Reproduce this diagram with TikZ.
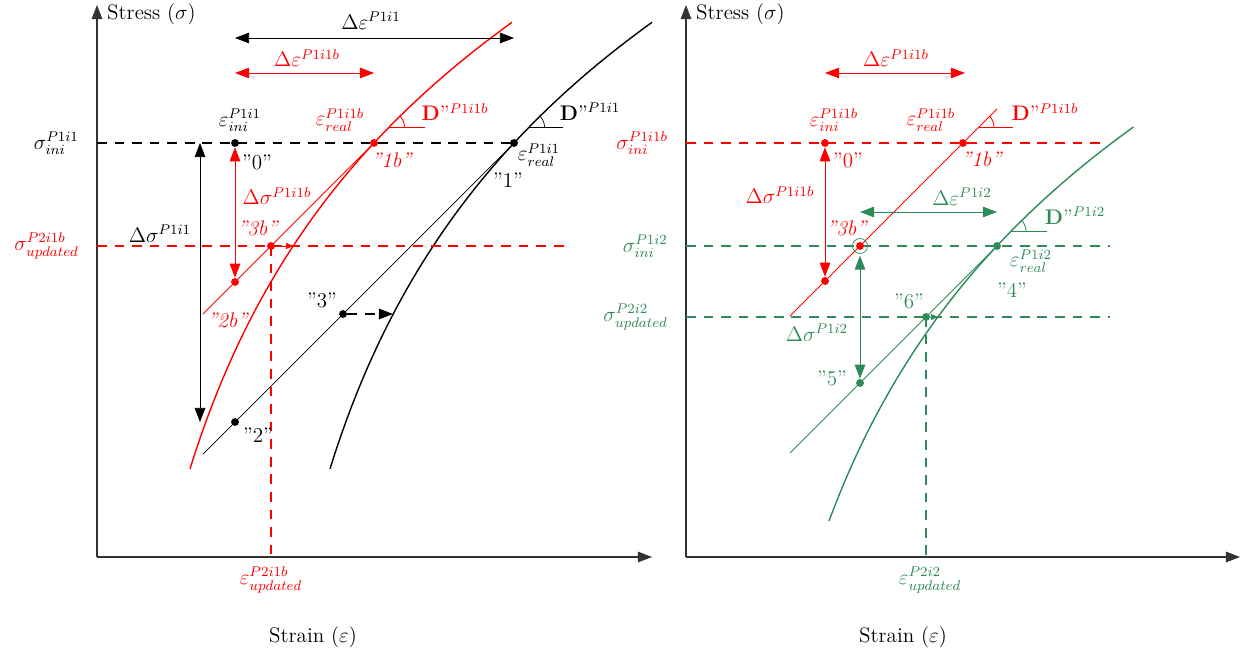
\documentclass[tikz,border=0pt]{standalone}
\usepackage{amsmath,amssymb}
\usepackage{tikz}
\usetikzlibrary{arrows.meta}
\definecolor{seagreen}{RGB}{46,139,87}

\begin{document}
\begin{tikzpicture}[every node/.style={font=\large}, >={Triangle[length=8pt,width=6pt]},
	dot/.style={circle, fill, inner sep=0pt, minimum size=4.5pt},
	axisline/.style={->, draw=black!80, line width=0.6pt},
	guide/.style={line width=0.65pt, dash pattern=on 5.5pt off 4.5pt},
	elastic/.style={line width=0.5pt},
	small/.style={-{Triangle[length=4pt,width=3.5pt]}}]
	\useasboundingbox (-1.94,-1.96) rectangle (22.98,11.14);
	% ---------------- left: iteration P1i1 ----------------
	\coordinate (oA) at (0,0);
	\coordinate (xA) at (11.1,0);
	\coordinate (yA) at (0,11.04);
	\draw[axisline] (oA) -- (xA);
	\draw[axisline] (oA) -- (yA);
	\node[anchor=west] (stressA) at (0.08,10.86) {Stress ($\sigma$)};
	\node (strainA) at (4.32,-1.6) {Strain ($\varepsilon$)};
	% points
	\coordinate (a0) at (2.76,8.28);
	\coordinate (a1b) at (5.54,8.28);
	\coordinate (a1) at (8.34,8.28);
	\coordinate (a2b) at (2.76,5.50);
	\coordinate (a3b) at (3.48,6.22);
	\coordinate (a2) at (2.76,2.70);
	\coordinate (a3) at (4.92,4.86);
	\coordinate (aRedStart) at (2.12,4.86);
	\coordinate (aBlkStart) at (2.12,2.06);
	\coordinate (aIniAxis) at (0,8.28);
	\coordinate (aUpdAxis) at (0,6.22);
	\coordinate (aUpdEnd) at (9.46,6.22);
	\coordinate (aEpsAxis) at (3.48,0);
	% curves
	\draw[red, thick, domain=1.86:8.3, samples=60] plot (\x, {5.97*ln(\x)-1.94});
	\draw[thick, domain=4.66:11.1, samples=60] plot (\x, {5.97*ln(\x-2.8)-1.94});
	% elastic lines
	\draw[elastic, red] (aRedStart) -- (a1b);
	\draw (aBlkStart) -- (a1);
	% dashed levels
	\draw[guide] (aIniAxis) -- (a1);
	\draw[guide, red] (aUpdAxis) -- (aUpdEnd);
	\draw[guide, red] (a3b) -- (aEpsAxis);
	% tangent angles
	\coordinate (aDb) at (5.85,8.6);
	\coordinate (aDbEnd) at (6.56,8.6);
	\coordinate (aD) at (8.65,8.6);
	\coordinate (aDEnd) at (9.32,8.6);
	\draw[elastic, red] (aDb) -- (aDbEnd);
	\draw[elastic, red] (aDb) ++(0.3,0) arc[start angle=0, end angle=45, radius=0.3];
	\draw (aD) -- (aDEnd);
	\draw (aD) ++(0.3,0) arc[start angle=0, end angle=45, radius=0.3];
	% dots
	\node[dot] (d0) at (a0) {};
	\node[dot, red] (d1b) at (a1b) {};
	\node[dot] (d1) at (a1) {};
	\node[dot, red] (d2b) at (a2b) {};
	\node[dot, red] (d3b) at (a3b) {};
	\node[dot] (d2) at (a2) {};
	\node[dot] (d3) at (a3) {};
	% increments
	\coordinate (eA) at (2.76,10.38);
	\coordinate (eB) at (8.34,10.38);
	\coordinate (ebA) at (2.76,9.68);
	\coordinate (ebB) at (5.54,9.68);
	\coordinate (sTop) at (2.06,8.28);
	\coordinate (sBot) at (2.06,2.70);
	\coordinate (c3b) at (3.92,6.22);
	\coordinate (c3) at (5.92,4.86);
	\draw[<->] (eA) -- (eB);
	\draw[<->, elastic, red] (ebA) -- (ebB);
	\draw[<->] (sTop) -- (sBot);
	\draw[<->, elastic, red] (d0) -- (d2b);
	\draw[small, red] (d3b) -- (c3b);
	\draw[->, guide] (d3) -- (c3);
	% labels
	\node (dEpsA) at (5.48,10.72) {$\Delta\varepsilon^{P1i1}$};
	\node[red] (dEpsbA) at (4.2,9.98) {$\Delta\varepsilon^{P1i1b}$};
	\node (epsIniA) at (2.86,8.74) {$\varepsilon_{ini}^{P1i1}$};
	\node[red] (epsRealbA) at (4.86,8.74) {$\varepsilon_{real}^{P1i1b}$};
	\node[red] (DbA) at (7.16,8.9) {\textbf{D}”$^{P1i1b}$};
	\node (DA) at (9.86,8.9) {\textbf{D}”$^{P1i1}$};
	\node (epsRealA) at (8.84,8.04) {$\varepsilon_{real}^{P1i1}$};
	\node (lab1) at (8.22,7.54) {”1”};
	\node[red] (lab1b) at (5.9,7.94) {\textit{”1b”}};
	\node (lab0) at (3.2,7.9) {”0”};
	\node[left] (sigIniA) at (-0.24,8.28) {$\sigma_{ini}^{P1i1}$};
	\node[red] (dSigbA) at (3.6,7.22) {$\Delta\sigma^{P1i1b}$};
	\node[red] (lab3b) at (3.22,6.58) {\textit{”3b”}};
	\node (dSigA) at (1.26,6.46) {$\Delta\sigma^{P1i1}$};
	\node[left, red] (sigUpdA) at (-0.24,6.22) {$\sigma_{updated}^{P2i1b}$};
	\node[red] (lab2b) at (2.62,4.74) {\textit{”2b”}};
	\node (lab3) at (4.5,5.14) {”3”};
	\node (lab2) at (3.22,2.44) {”2”};
	\node[red] (epsUpdA) at (3.48,-0.46) {$\varepsilon_{updated}^{P2i1b}$};
	% ---------------- right: iteration P1i2 ----------------
	\begin{scope}[xshift=11.78cm]
	\coordinate (oB) at (0,0);
	\coordinate (xB) at (11.08,0);
	\coordinate (yB) at (0,11.04);
	\draw[axisline] (oB) -- (xB);
	\draw[axisline] (oB) -- (yB);
	\node[anchor=west] (stressB) at (0.08,10.86) {Stress ($\sigma$)};
	\node (strainB) at (4.34,-1.6) {Strain ($\varepsilon$)};
	% points
	\coordinate (b0) at (2.78,8.28);
	\coordinate (b1b) at (5.54,8.28);
	\coordinate (b2b) at (2.78,5.52);
	\coordinate (b3b) at (3.48,6.22);
	\coordinate (b4) at (6.22,6.22);
	\coordinate (b5) at (3.48,3.48);
	\coordinate (b6) at (4.8,4.8);
	\coordinate (bRedStart) at (2.08,4.82);
	\coordinate (bRedEnd) at (6.22,8.96);
	\coordinate (bGrnStart) at (2.08,2.08);
	\coordinate (bIniAxis) at (0,8.28);
	\coordinate (bIniEnd) at (8.28,8.28);
	\coordinate (bIni2Axis) at (0,6.22);
	\coordinate (bIni2End) at (8.48,6.22);
	\coordinate (bUpdAxis) at (0,4.8);
	\coordinate (bUpdEnd) at (8.48,4.8);
	\coordinate (bEpsAxis) at (4.8,0);
	% curve
	\draw[seagreen, thick, domain=2.86:8.95, samples=60] plot (\x, {5.97*ln(\x-0.64)-4.04});
	% elastic lines
	\draw[elastic, red] (bRedStart) -- (bRedEnd);
	\draw[elastic, seagreen] (bGrnStart) -- (b4);
	% dashed levels
	\draw[guide, red] (bIniAxis) -- (bIniEnd);
	\draw[guide, seagreen] (bIni2Axis) -- (bIni2End);
	\draw[guide, seagreen] (bUpdAxis) -- (bUpdEnd);
	\draw[guide, seagreen] (b6) -- (bEpsAxis);
	% tangent angles
	\coordinate (bDb) at (5.86,8.6);
	\coordinate (bDbEnd) at (6.54,8.6);
	\coordinate (bD) at (6.5,6.52);
	\coordinate (bDEnd) at (7.22,6.52);
	\draw[elastic, red] (bDb) -- (bDbEnd);
	\draw[elastic, red] (bDb) ++(0.3,0) arc[start angle=0, end angle=45, radius=0.3];
	\draw[elastic, seagreen] (bD) -- (bDEnd);
	\draw[elastic, seagreen] (bD) ++(0.3,0) arc[start angle=0, end angle=45, radius=0.3];
	% dots
	\node[dot, red] (e0) at (b0) {};
	\node[dot, red] (e1b) at (b1b) {};
	\node[dot, red] (e2b) at (b2b) {};
	\node[dot, red] (e3b) at (b3b) {};
	\node[dot, seagreen] (e4) at (b4) {};
	\node[dot, seagreen] (e5) at (b5) {};
	\node[dot, seagreen] (e6) at (b6) {};
	\draw[seagreen] (e3b.center) circle (0.15);
	% increments
	\coordinate (fbA) at (2.78,9.68);
	\coordinate (fbB) at (5.58,9.68);
	\coordinate (fA) at (3.48,6.9);
	\coordinate (fB) at (6.22,6.9);
	\coordinate (c6) at (5.04,4.8);
	\draw[<->, elastic, red] (fbA) -- (fbB);
	\draw[<->, elastic, seagreen] (fA) -- (fB);
	\draw[<->, elastic, red] (e0) -- (e2b);
	\draw[<->, elastic, seagreen, shorten <=3pt] (e3b) -- (e5);
	\draw[small, seagreen] (e6) -- (c6);
	% labels
	\node[red] (dEpsbB) at (4.2,9.98) {$\Delta\varepsilon^{P1i1b}$};
	\node[red] (epsInibB) at (2.96,8.74) {$\varepsilon_{ini}^{P1i1b}$};
	\node[red] (epsRealbB) at (4.9,8.74) {$\varepsilon_{real}^{P1i1b}$};
	\node[red] (DbB) at (7.18,8.9) {\textbf{D}”$^{P1i1b}$};
	\node[red] (lab1bB) at (5.92,7.96) {\textit{”1b”}};
	\node[red] (lab0B) at (3.24,7.94) {”0”};
	\node[left, red] (sigIniB) at (-0.24,8.28) {$\sigma_{ini}^{P1i1b}$};
	\node[red] (dSigbB) at (1.88,7.24) {$\Delta\sigma^{P1i1b}$};
	\node[red] (lab3bB) at (3.22,6.58) {\textit{”3b”}};
	\node[seagreen] (dEpsB) at (5.52,7.2) {$\Delta\varepsilon^{P1i2}$};
	\node[seagreen] (DB) at (7.78,6.82) {\textbf{D}”$^{P1i2}$};
	\node[seagreen] (epsRealB) at (6.9,5.92) {$\varepsilon_{real}^{P1i2}$};
	\node[seagreen] (lab4) at (6.52,5.34) {”4”};
	\node[left, seagreen] (sigIni2B) at (-0.24,6.22) {$\sigma_{ini}^{P1i2}$};
	\node[left, seagreen] (sigUpdB) at (-0.24,4.8) {$\sigma_{updated}^{P2i2}$};
	\node[seagreen] (lab6) at (4.46,5.12) {”6”};
	\node[seagreen] (dSigB) at (2.62,4.48) {$\Delta\sigma^{P1i2}$};
	\node[seagreen] (lab5) at (2.92,3.58) {”5”};
	\node[seagreen] (epsUpdB) at (4.88,-0.46) {$\varepsilon_{updated}^{P2i2}$};
	\end{scope}
\end{tikzpicture}
\end{document}
